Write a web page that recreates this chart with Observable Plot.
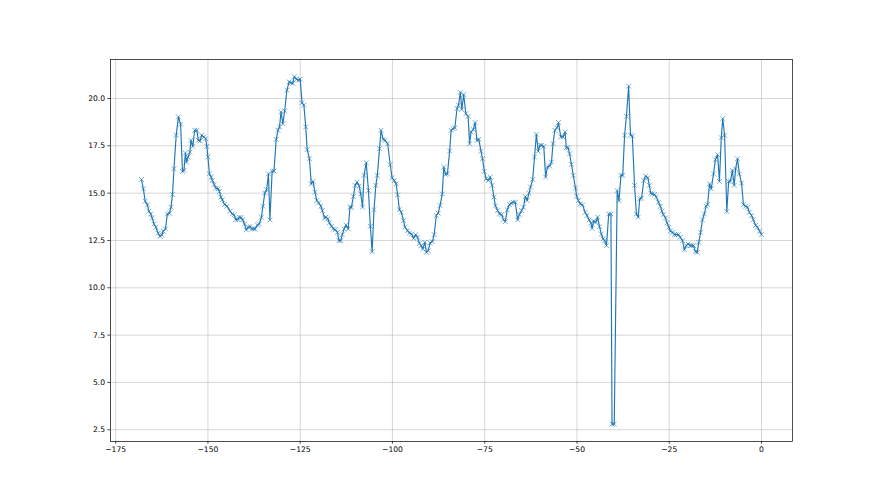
<!DOCTYPE html>
<html>
<head>
<meta charset="utf-8">
<script src="https://cdn.jsdelivr.net/npm/d3@7"></script>
<script src="https://cdn.jsdelivr.net/npm/@observablehq/plot@0.6"></script>
<style>
  html, body { margin: 0; padding: 0; background: white; }
</style>
</head>
<body>
<script>
const xs = [
-168.0,-167.5,-167.0,-166.4,-166.0,-165.5,-165.1,-164.6,-164.1,-163.5,-163.0,-162.5,-162.1,-161.5,-161.0,-160.4,-160.0,-159.6,-159.2,-158.6,
-158.0,-157.4,-156.9,-156.5,-156.1,-155.8,-155.4,-154.9,-154.6,-154.1,-153.6,-153.0,-152.6,-152.1,-151.7,-151.1,-150.6,-150.3,-150.0,-149.6,
-149.1,-148.8,-148.3,-147.8,-147.2,-146.9,-146.5,-146.1,-145.5,-144.8,-144.0,-143.4,-142.9,-142.5,-141.9,-141.5,-141.0,-140.6,-140.1,-139.6,
-139.1,-138.6,-138.1,-137.6,-137.2,-136.6,-136.1,-135.5,-135.1,-134.6,-134.1,-133.6,-133.2,-132.6,-132.1,-131.5,-131.0,-130.6,-130.2,-129.7,
-129.2,-128.6,-128.0,-127.5,-127.0,-126.6,-126.0,-125.5,-125.0,-124.5,-124.0,-123.5,-123.1,-122.5,-122.0,-121.5,-121.0,-120.5,-120.0,-119.4,
-119.0,-118.4,-118.0,-117.5,-117.1,-116.5,-116.0,-115.5,-114.9,-114.5,-114.0,-113.6,-113.1,-112.6,-112.0,-111.5,-111.1,-110.6,-110.1,-109.6,
-109.0,-108.6,-108.1,-107.7,-107.1,-106.5,-106.0,-105.5,-105.0,-104.5,-104.1,-103.5,-103.1,-102.5,-102.0,-101.3,-100.6,-100.1,-99.5,-99.0,
-98.6,-98.1,-97.6,-97.0,-96.6,-95.9,-95.4,-94.8,-94.3,-93.7,-93.2,-92.7,-92.2,-91.8,-91.2,-90.8,-90.3,-89.8,-89.2,-88.7,
-88.1,-87.6,-87.1,-86.5,-86.1,-85.6,-85.1,-84.5,-84.1,-83.6,-83.1,-82.5,-82.1,-81.6,-81.2,-80.7,-80.1,-79.5,-79.1,-78.7,
-78.1,-77.6,-77.1,-76.6,-76.0,-75.6,-75.1,-74.6,-74.0,-73.5,-73.0,-72.5,-72.1,-71.5,-71.0,-70.4,-69.9,-69.4,-68.9,-68.3,
-67.8,-67.3,-66.7,-66.1,-65.6,-65.0,-64.5,-64.0,-63.5,-63.0,-62.6,-62.0,-61.5,-61.0,-60.5,-60.0,-59.6,-59.0,-58.5,-58.0,
-57.4,-56.9,-56.5,-56.0,-55.4,-55.0,-54.4,-53.8,-53.2,-52.9,-52.4,-52.0,-51.5,-51.0,-50.4,-50.1,-49.6,-49.1,-48.5,-47.8,
-47.3,-46.7,-46.2,-45.9,-45.5,-44.9,-44.4,-43.9,-43.4,-42.9,-42.5,-42.0,-41.4,-40.8,-40.5,-39.9,-39.1,-38.6,-38.1,-37.6,
-37.1,-36.6,-36.0,-35.5,-35.0,-34.4,-33.9,-33.4,-33.0,-32.5,-31.9,-31.4,-30.8,-30.4,-30.0,-29.6,-29.0,-28.5,-27.9,-27.4,
-27.0,-26.6,-26.0,-25.6,-25.1,-24.7,-24.1,-23.6,-23.1,-22.5,-22.0,-21.4,-20.9,-20.4,-19.9,-19.3,-18.9,-18.4,-17.9,-17.4,
-17.0,-16.5,-16.0,-15.5,-15.0,-14.6,-14.1,-13.6,-13.0,-12.5,-11.9,-11.4,-10.9,-10.5,-10.0,-9.4,-8.9,-8.4,-7.9,-7.4,
-7.0,-6.5,-6.0,-5.4,-4.9,-4.3,-3.8,-3.3,-2.7,-2.2,-1.6,-1.1,-0.5,0.0
];
const ys = [
15.72,15.23,14.58,14.38,14.05,13.90,13.69,13.37,13.20,12.88,12.72,12.79,12.99,13.11,13.90,13.94,14.26,14.93,16.29,18.06,
19.03,18.64,16.15,16.20,17.12,16.64,16.91,17.17,17.79,17.47,18.32,18.32,17.79,17.76,18.06,17.97,17.88,17.47,16.91,16.02,
15.85,15.67,15.46,15.25,15.23,15.09,14.79,14.65,14.40,14.31,14.05,13.90,13.85,13.60,13.60,13.73,13.71,13.59,13.37,13.06,
13.20,13.23,13.11,13.11,13.11,13.32,13.37,13.73,14.31,15.00,15.18,16.02,13.59,16.15,16.17,17.84,18.32,18.50,19.29,18.67,
19.35,20.44,20.88,20.83,20.80,21.15,21.02,20.97,21.02,19.77,19.65,18.50,17.30,16.82,15.49,15.62,15.05,14.61,14.49,14.31,
14.08,13.69,13.73,13.64,13.43,13.25,13.11,13.07,12.93,12.49,12.49,12.81,13.11,13.32,13.11,14.26,14.26,14.82,15.41,15.58,
15.37,14.96,14.26,15.94,16.61,15.14,13.25,11.91,14.13,15.41,15.94,17.35,18.32,17.84,17.79,17.61,16.50,15.81,15.67,15.49,
14.91,14.13,13.99,13.55,13.20,13.02,12.90,12.84,12.61,12.81,12.67,12.35,12.23,12.05,12.40,11.87,11.96,12.37,12.44,12.81,
13.82,13.94,14.35,14.96,16.38,15.99,16.02,17.23,18.32,18.41,18.45,19.47,19.65,20.32,19.42,20.21,19.20,19.06,17.61,18.23,
18.36,18.73,17.79,17.84,17.21,16.82,16.15,15.76,15.67,15.85,15.41,14.79,14.33,14.08,13.90,13.87,13.59,13.50,14.12,14.40,
14.47,14.52,14.52,13.59,13.87,14.08,14.26,14.82,14.61,15.00,15.32,15.72,16.91,18.11,17.21,17.53,17.53,17.47,15.85,16.38,
16.43,16.64,17.61,18.32,18.46,18.73,17.97,17.97,18.23,17.40,17.40,17.08,16.52,15.94,15.27,14.84,14.61,14.43,14.38,13.99,
13.82,13.59,13.41,13.14,13.52,13.46,13.73,13.23,12.84,12.58,12.49,12.23,13.90,13.90,2.80,2.80,15.14,14.60,15.94,15.94,
18.06,19.06,20.65,18.06,18.02,15.41,13.90,13.73,14.70,14.73,15.67,15.90,15.81,15.41,15.00,14.96,14.93,14.79,14.52,14.31,
14.05,13.87,13.69,13.43,13.20,12.99,12.93,12.81,12.81,12.81,12.67,12.49,12.01,12.23,12.31,12.23,12.23,12.23,11.91,11.87,
12.40,12.93,13.59,13.90,14.31,14.40,15.49,15.23,16.02,16.77,17.03,15.62,17.93,18.94,18.06,14.03,15.62,15.64,16.20,15.41,
16.29,16.82,16.02,15.53,14.40,14.31,14.26,13.99,13.82,13.59,13.29,13.20,12.99,12.81
];
const xTicks = [-175, -150, -125, -100, -75, -50, -25, 0];
const yTicks = [2.5, 5.0, 7.5, 10.0, 12.5, 15.0, 17.5, 20.0];

const data = xs.map((x, i) => ({x, y: ys[i]}));

const chart = Plot.plot({
  width: 880,
  height: 495,
  marginLeft: 110,
  marginRight: 88,
  marginTop: 59,
  marginBottom: 54,
  style: {fontFamily: "DejaVu Sans", fontSize: "7.6px", background: "white", color: "black", overflow: "visible"},
  x: {domain: [-176.4, 8.4], label: null},
  y: {domain: [1.88, 22.06], label: null},
  marks: [
    Plot.gridX(xTicks, {stroke: "#b0b0b0", strokeOpacity: 0.85, strokeWidth: 0.6}),
    Plot.gridY(yTicks, {stroke: "#b0b0b0", strokeOpacity: 0.85, strokeWidth: 0.6}),
    Plot.line(data, {x: "x", y: "y", stroke: "#1f77b4", strokeWidth: 1.15}),
    Plot.dot(data, {x: "x", y: "y", symbol: "times", r: 2.3, stroke: "#1f77b4", strokeWidth: 0.6}),
    Plot.frame({stroke: "#000", strokeWidth: 0.7}),
    Plot.axisX(xTicks, {tickSize: 2.7, tickPadding: 2.7, tickFormat: d3.format("d"), label: null, fill: "black", stroke: "black", strokeWidth: 0.7}),
    Plot.axisY(yTicks, {tickSize: 2.7, tickPadding: 2.7, tickFormat: d3.format(".1f"), label: null, fill: "black", stroke: "black", strokeWidth: 0.7})
  ]
});
document.body.appendChild(chart);
</script>
</body>
</html>
